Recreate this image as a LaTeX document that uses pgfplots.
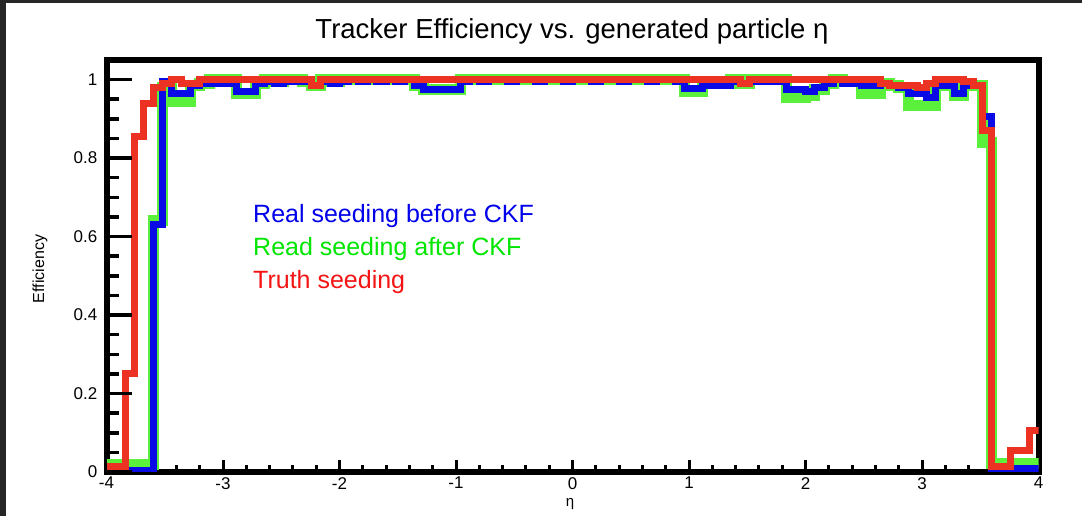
\documentclass[border=0pt]{standalone}
\usepackage{fontspec}
\setmainfont{Liberation Sans}
\usepackage{pgfplots}
\usepackage{pgfplotstable}
\pgfplotsset{compat=1.18}
\definecolor{hred}{RGB}{235,50,35}
\definecolor{hblue}{RGB}{10,10,230}
\definecolor{hgreen}{RGB}{90,240,60}
\definecolor{tblue}{RGB}{0,0,235}
\definecolor{tgreen}{RGB}{0,230,0}
\definecolor{tred}{RGB}{245,20,20}
\definecolor{edgegray}{RGB}{38,38,38}
\pgfplotstableread{
x red blue green
-4.00 0.015 0.005 0.020
-3.92 0.015 0.005 0.020
-3.84 0.250 0.005 0.020
-3.76 0.855 0.005 0.020
-3.68 0.940 0.005 0.020
-3.60 0.980 0.630 0.640
-3.52 0.990 0.995 0.980
-3.44 1.000 0.965 0.945
-3.36 0.990 0.965 0.945
-3.28 0.990 0.985 0.985
-3.20 1.000 0.990 0.990
-3.12 1.000 0.990 1.000
-3.04 1.000 0.990 1.000
-2.96 1.000 0.990 1.000
-2.88 1.000 0.970 0.965
-2.80 1.000 0.970 0.965
-2.72 1.000 0.990 0.990
-2.64 1.000 0.995 1.000
-2.56 1.000 0.990 0.995
-2.48 1.000 0.995 1.000
-2.40 1.000 0.995 1.000
-2.32 1.000 0.995 0.995
-2.24 0.985 0.985 0.985
-2.16 1.000 0.995 1.000
-2.08 1.000 0.990 0.995
-2.00 1.000 0.995 1.000
-1.92 1.000 1.000 1.000
-1.84 1.000 0.995 1.000
-1.76 1.000 1.000 1.000
-1.68 1.000 0.995 1.000
-1.60 1.000 1.000 1.000
-1.52 1.000 0.995 1.000
-1.44 1.000 1.000 1.000
-1.36 1.000 0.985 0.985
-1.28 1.000 0.975 0.975
-1.20 1.000 0.975 0.975
-1.12 1.000 0.975 0.975
-1.04 1.000 0.975 0.975
-0.96 1.000 0.995 1.000
-0.88 1.000 1.000 1.000
-0.80 1.000 0.995 1.000
-0.72 1.000 1.000 1.000
-0.64 1.000 1.000 1.000
-0.56 1.000 0.995 1.000
-0.48 1.000 1.000 1.000
-0.40 1.000 1.000 1.000
-0.32 1.000 0.995 1.000
-0.24 1.000 1.000 1.000
-0.16 1.000 1.000 1.000
-0.08 1.000 0.995 1.000
0.00 1.000 1.000 1.000
0.08 1.000 1.000 1.000
0.16 1.000 0.995 1.000
0.24 1.000 1.000 1.000
0.32 1.000 1.000 1.000
0.40 1.000 0.995 1.000
0.48 1.000 1.000 1.000
0.56 1.000 1.000 1.000
0.64 1.000 0.995 1.000
0.72 1.000 1.000 1.000
0.80 1.000 1.000 1.000
0.88 1.000 0.995 1.000
0.96 1.000 0.978 0.970
1.04 1.000 0.978 0.970
1.12 1.000 0.985 0.990
1.20 1.000 0.985 0.990
1.28 1.000 0.985 0.990
1.36 1.000 0.995 1.000
1.44 0.990 0.990 0.990
1.52 1.000 0.995 1.000
1.60 1.000 0.995 1.000
1.68 1.000 0.995 1.000
1.76 1.000 0.995 1.000
1.84 1.000 0.975 0.955
1.92 1.000 0.975 0.955
2.00 1.000 0.970 0.960
2.08 1.000 0.980 0.975
2.16 1.000 0.990 0.990
2.24 1.000 1.000 1.000
2.32 1.000 0.990 0.995
2.40 1.000 0.990 0.995
2.48 1.000 0.985 0.965
2.56 1.000 0.985 0.965
2.64 0.990 0.990 0.990
2.72 0.985 0.985 0.985
2.80 0.985 0.980 0.980
2.88 0.985 0.965 0.935
2.96 0.980 0.965 0.935
3.04 0.990 0.955 0.935
3.12 1.000 0.985 0.985
3.20 1.000 0.985 0.990
3.28 1.000 0.965 0.960
3.36 0.995 0.985 0.985
3.44 0.985 0.985 0.985
3.52 0.870 0.905 0.840
3.60 0.015 0.000 0.022
3.68 0.015 0.000 0.022
3.76 0.055 0.010 0.022
3.84 0.055 0.010 0.022
3.92 0.105 0.010 0.022
4.00 0.105 0.010 0.022
}\effdata
\begin{document}
\begin{tikzpicture}[x=1pt,y=1pt]
\fill[white] (0,0) rectangle (1082,516);
\fill[edgegray] (0,0) rectangle (6,516);
\fill[edgegray] (0,513) rectangle (1082,516);
\useasboundingbox (0,0) rectangle (1082,516);
% main axis: histograms, frame, x ticks
\begin{axis}[
  at={(106.5pt,44pt)}, anchor=south west,
  scale only axis, width=932pt, height=412pt,
  xmin=-4, xmax=4, ymin=0, ymax=1.05,
  axis line style={line width=6pt, black},
  tick pos=left, tick align=inside,
  xtick={-4,-3,-2,-1,0,1,2,3,4},
  xticklabels={-4,-3,-2,-1,0,1,2,3,4},
  minor x tick num=4,
  ytick=\empty,
  major tick length=12pt, minor tick length=7pt,
  every tick/.style={line width=3pt, black},
  xticklabel style={font=\fontsize{17}{20}\selectfont, inner sep=0pt, anchor=north, yshift=-5pt},
  line join=miter,
]
\addplot[const plot mark left, hgreen, line width=11pt] table[x=x, y=green] {\effdata};
\addplot[const plot mark left, hblue, line width=7pt] table[x=x, y=blue] {\effdata};
\addplot[const plot mark left, hred, line width=7pt] table[x=x, y=red] {\effdata};
\end{axis}
% overlay axis: y ticks only
\begin{axis}[
  at={(106.5pt,44pt)}, anchor=south west,
  scale only axis, width=932pt, height=412pt,
  xmin=-4, xmax=4, ymin=0, ymax=1.05,
  axis line style={draw=none},
  tick pos=left, tick align=inside,
  xtick=\empty,
  ytick={0,0.2,0.4,0.6,0.8,1},
  minor y tick num=3,
  major tick length=25pt, minor tick length=12pt,
  every tick/.style={line width=3.5pt, black},
  /pgf/number format/assume math mode=true,
  yticklabel style={font=\fontsize{17}{20}\selectfont, inner sep=0pt, anchor=east, xshift=-9pt},
]
\end{axis}
\node[anchor=base, inner sep=0pt, font=\fontsize{27.5}{32}\selectfont] at (572,477) {Tracker Efficiency vs. generated particle η};
\node[rotate=90, inner sep=0pt, font=\fontsize{16}{19}\selectfont] at (40,247) {Efficiency};
\node[inner sep=0pt, font=\fontsize{15}{18}\selectfont] at (570,12) {η};
\node[anchor=base west, inner sep=0pt, text=tblue, font=\fontsize{25}{30}\selectfont] at (253,293) {Real seeding before CKF};
\node[anchor=base west, inner sep=0pt, text=tgreen, font=\fontsize{25}{30}\selectfont] at (253,260) {Read seeding after CKF};
\node[anchor=base west, inner sep=0pt, text=tred, font=\fontsize{25}{30}\selectfont] at (253,227) {Truth seeding};
\end{tikzpicture}
\end{document}
